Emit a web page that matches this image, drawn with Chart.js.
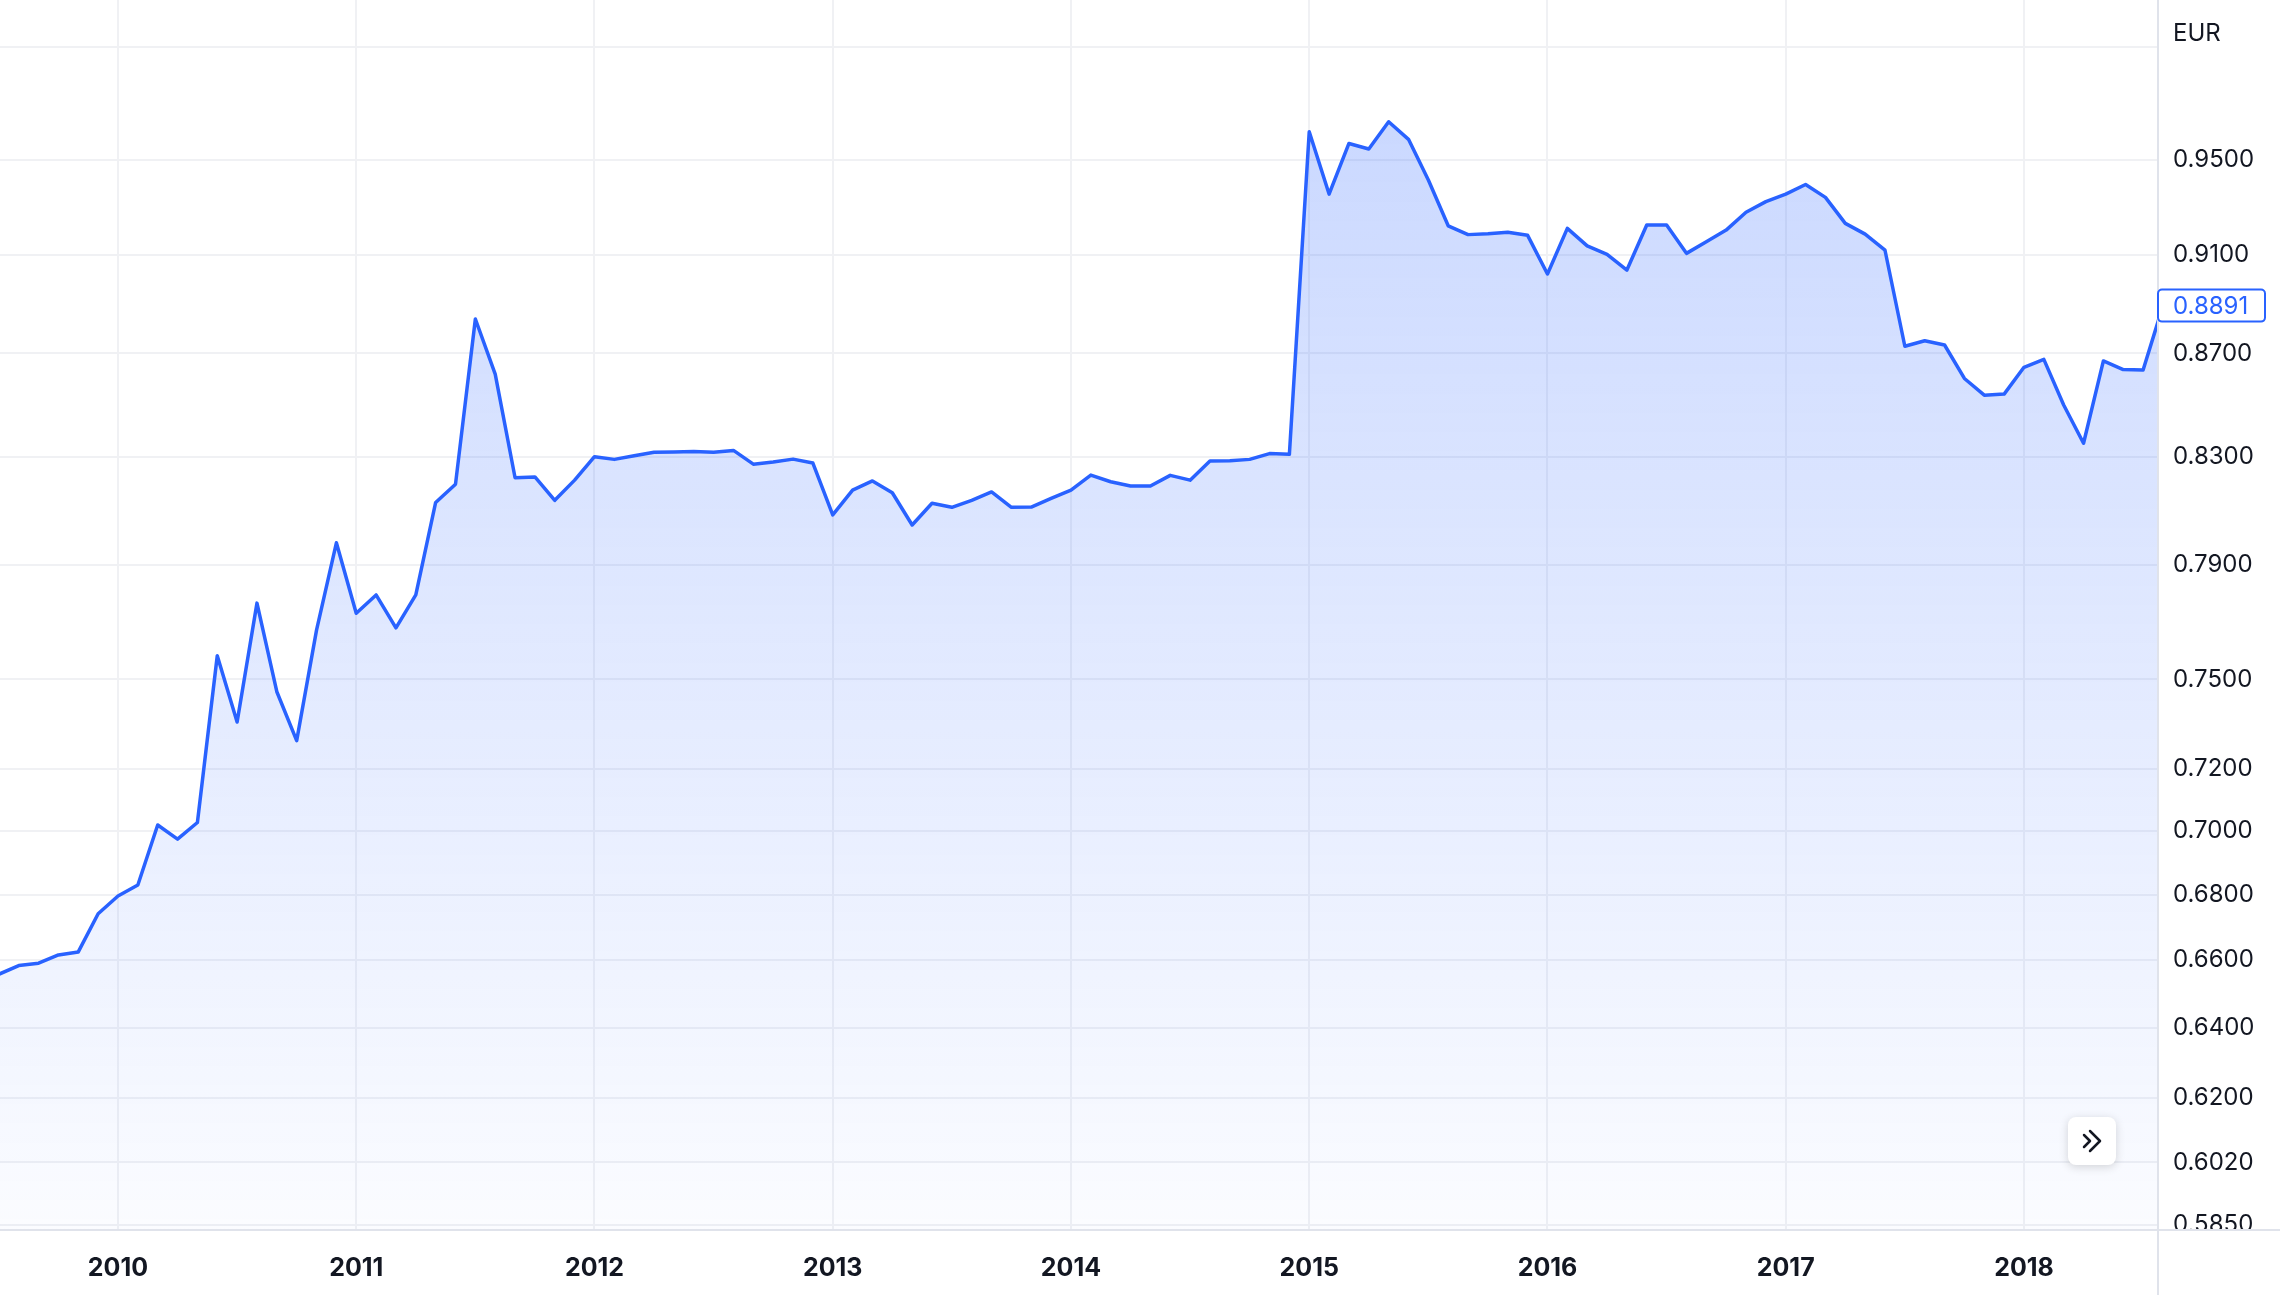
<!DOCTYPE html>
<html lang="en">
  <head>
    <meta charset="UTF-8" />
    <title>EUR</title>
    <script src="https://cdn.jsdelivr.net/npm/chart.js"></script>
    <style>
      html, body { margin: 0; padding: 0; background: #fff; }
      #wrap { width: 2280px; height: 1295px; }
    </style>
  </head>
  <body>
    <div id="wrap"><canvas id="fxChart" width="2280" height="1295"></canvas></div>

    <script>
      // monthly closes, first one is July 2009
      const firstYear = 2009;
      const firstMonth = 7;
      const closes = [
        0.6558, 0.6584, 0.6591, 0.6616, 0.6625, 0.6741,
        0.6796, 0.6830, 0.7019, 0.6974, 0.7027, 0.7581, 0.7356, 0.7765, 0.7458, 0.7294, 0.7670, 0.7981,
        0.7729, 0.7794, 0.7678, 0.7794, 0.8129, 0.8197, 0.8837, 0.8618, 0.8221, 0.8224, 0.8137, 0.8212,
        0.8300, 0.8290, 0.8304, 0.8317, 0.8318, 0.8320, 0.8317, 0.8324, 0.8272, 0.8280, 0.8291, 0.8276,
        0.8083, 0.8175, 0.8209, 0.8165, 0.8046, 0.8126, 0.8111, 0.8137, 0.8168, 0.8111, 0.8112, 0.8144,
        0.8175, 0.8231, 0.8206, 0.8190, 0.8190, 0.8230, 0.8212, 0.8284, 0.8285, 0.8290, 0.8312, 0.8309,
        0.9623, 0.9354, 0.9572, 0.9548, 0.9667, 0.9590, 0.9414, 0.9220, 0.9183, 0.9187, 0.9193, 0.9180,
        0.9020, 0.9209, 0.9136, 0.9101, 0.9036, 0.9223, 0.9223, 0.9105, 0.9153, 0.9202, 0.9277, 0.9322,
        0.9354, 0.9395, 0.9340, 0.9230, 0.9185, 0.9118, 0.8728, 0.8750, 0.8733, 0.8601, 0.8536, 0.8540,
        0.8645, 0.8676, 0.8498, 0.8351, 0.8670, 0.8636, 0.8634, 0.8891,
      ];
      const yearLabels = ["2010", "2011", "2012", "2013", "2014", "2015", "2016", "2017", "2018"];
      const priceTicks = [
        1.0, 0.95, 0.91, 0.87, 0.83, 0.79, 0.75, 0.72, 0.7, 0.68, 0.66, 0.64, 0.62, 0.602, 0.585,
      ];
      const currency = "EUR";

      const blue = "#2962ff";
      const textColor = "#131722";
      const gridColor = "#f0f1f4";

      // x = months since Jan 2010
      const offset = (firstYear - 2010) * 12 + (firstMonth - 1);
      const points = closes.map((v, i) => ({ x: offset + i, y: v }));
      const lastPrice = closes[closes.length - 1];

      Chart.defaults.font.family = "Inter";
      Chart.defaults.color = textColor;

      const extras = {
        id: "extras",
        afterDraw(chart) {
          const { ctx, chartArea, scales } = chart;
          const right = chartArea.right;
          ctx.save();

          // price label under the time axis is cut off
          ctx.fillStyle = "#fff";
          ctx.fillRect(right + 1, chartArea.bottom, chart.width, chart.height);

          // axis separators
          ctx.strokeStyle = "#e0e3eb";
          ctx.lineWidth = 2;
          ctx.beginPath();
          ctx.moveTo(right + 1, 0);
          ctx.lineTo(right + 1, chart.height);
          ctx.moveTo(0, chartArea.bottom + 1);
          ctx.lineTo(chart.width, chartArea.bottom + 1);
          ctx.stroke();

          ctx.font = "24px Inter";
          ctx.textAlign = "left";
          ctx.textBaseline = "middle";
          ctx.fillStyle = textColor;
          ctx.fillText(currency, right + 16, 34);

          // current price box
          const y = scales.y.getPixelForValue(lastPrice);
          ctx.beginPath();
          ctx.roundRect(right + 1, y - 16, 107, 32, 4);
          ctx.fillStyle = "#fff";
          ctx.fill();
          ctx.strokeStyle = blue;
          ctx.lineWidth = 2;
          ctx.stroke();
          ctx.fillStyle = blue;
          ctx.fillText(lastPrice.toFixed(4), right + 16, y + 1);

          // scroll-to-end button
          const bx = right - 89;
          const by = chartArea.bottom - 112;
          ctx.save();
          ctx.shadowColor = "rgba(0, 0, 0, 0.16)";
          ctx.shadowBlur = 10;
          ctx.shadowOffsetY = 2;
          ctx.beginPath();
          ctx.roundRect(bx, by, 48, 48, 8);
          ctx.fillStyle = "#fff";
          ctx.fill();
          ctx.restore();
          ctx.strokeStyle = textColor;
          ctx.lineWidth = 2.5;
          ctx.lineCap = "round";
          ctx.lineJoin = "round";
          ctx.beginPath();
          ctx.moveTo(bx + 16, by + 18);
          ctx.lineTo(bx + 22, by + 24);
          ctx.lineTo(bx + 16, by + 30);
          ctx.moveTo(bx + 22, by + 14);
          ctx.lineTo(bx + 32, by + 24);
          ctx.lineTo(bx + 22, by + 34);
          ctx.stroke();

          ctx.restore();
        },
      };

      const ctx = document.getElementById("fxChart").getContext("2d");
      new Chart(ctx, {
        type: "line",
        data: {
          datasets: [
            {
              label: currency,
              data: points,
              borderColor: blue,
              borderWidth: 3.5,
              borderJoinStyle: "round",
              pointRadius: 0,
              tension: 0,
              fill: "start",
              backgroundColor: (context) => {
                const area = context.chart.chartArea;
                if (!area) return "rgba(41, 98, 255, 0.15)";
                const g = context.chart.ctx.createLinearGradient(0, area.top, 0, area.bottom);
                g.addColorStop(0, "rgba(41, 98, 255, 0.27)");
                g.addColorStop(1, "rgba(41, 98, 255, 0.02)");
                return g;
              },
            },
          ],
        },
        options: {
          responsive: false,
          devicePixelRatio: 1,
          animation: false,
          events: [],
          layout: { padding: 0 },
          plugins: {
            legend: { display: false },
            tooltip: { enabled: false },
          },
          scales: {
            x: {
              type: "linear",
              min: -5.943,
              max: 102.7,
              afterBuildTicks: (scale) => {
                scale.ticks = yearLabels.map((_, i) => ({ value: i * 12 }));
              },
              afterFit: (scale) => {
                scale.height = 66;
                scale.paddingLeft = 0;
                scale.paddingRight = 0;
              },
              grid: { color: gridColor, lineWidth: 2, drawTicks: false },
              border: { display: false },
              ticks: {
                padding: 24,
                maxRotation: 0,
                autoSkip: false,
                color: textColor,
                font: { size: 25, weight: "bold" },
                callback: (v) => yearLabels[Math.round(v / 12)],
              },
            },
            y: {
              type: "logarithmic",
              position: "right",
              bounds: "data",
              min: 0.584,
              max: 1.0218,
              afterBuildTicks: (scale) => {
                scale.ticks = priceTicks.map((v) => ({ value: v }));
              },
              afterFit: (scale) => {
                scale.width = 123;
                scale.paddingTop = 0;
                scale.paddingBottom = 0;
              },
              grid: { color: gridColor, lineWidth: 2, drawTicks: false },
              border: { display: false },
              ticks: {
                padding: 16,
                autoSkip: false,
                color: textColor,
                font: { size: 24 },
                callback: (v) => (v >= 1 ? "" : v.toFixed(4)),
              },
            },
          },
        },
        plugins: [extras],
      });
    </script>
  </body>
</html>
